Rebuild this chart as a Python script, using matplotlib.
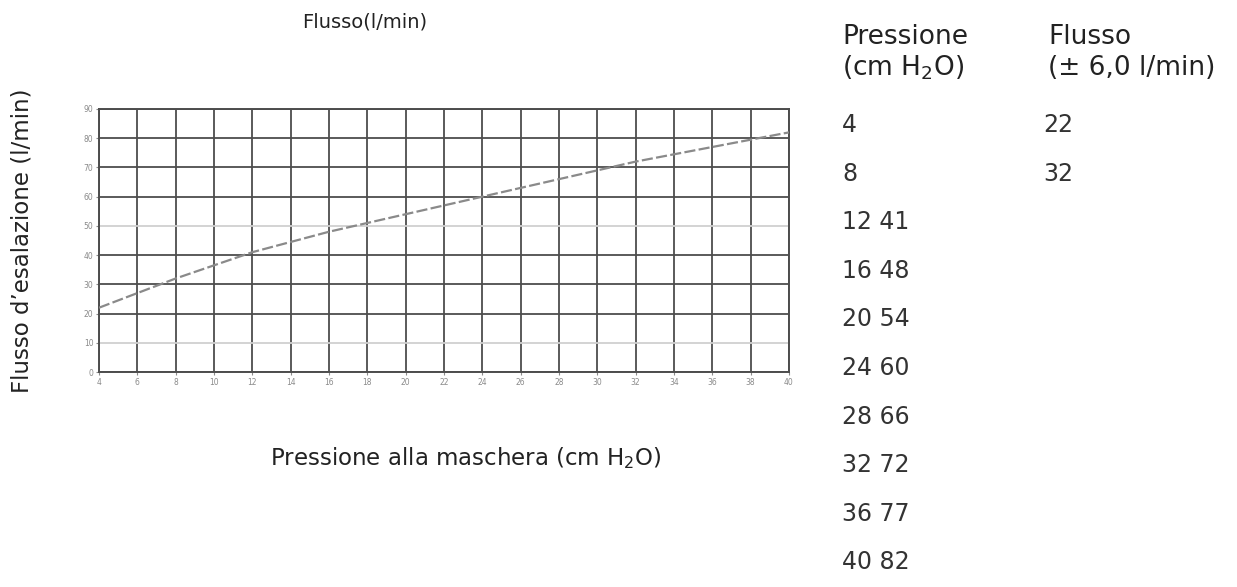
import matplotlib
matplotlib.use("Agg")
import matplotlib.pyplot as plt

# ---- data ----
pressure = [4, 8, 12, 16, 20, 24, 28, 32, 36, 40]
flow = [22, 32, 41, 48, 54, 60, 66, 72, 77, 82]
x_ticks = list(range(4, 41, 2))
y_ticks = list(range(0, 91, 10))
light_y = [10, 50]

title = "Flusso(l/min)"
xlabel = "Pressione alla maschera (cm $\\mathregular{H_2O}$)"
ylabel = "Flusso d\u2019esalazione (l/min)"
col1_head = ["Pressione", "(cm $\\mathregular{H_2O}$)"]
col2_head = ["Flusso", "(\u00b1 6,0 l/min)"]

W, H = 1237, 587
fig = plt.figure(figsize=(W / 100, H / 100), dpi=100)
plt.rcParams['font.family'] = ['DejaVu Sans']

def fx(px):
    return px / W

def fy(py):
    return 1 - py / H

ax = fig.add_axes([fx(99), fy(372), fx(789) - fx(99), fy(109) - fy(372)])
ax.plot(pressure, flow, color="#8a8a8a", lw=1.6, dashes=(5, 1.5), zorder=3)
ax.set_xlim(4, 40)
ax.set_ylim(0, 90)
ax.set_xticks(x_ticks)
ax.set_yticks(y_ticks)
ax.grid(True, color="#4d4d4d", lw=1.3, zorder=1)
for val, gl in zip(y_ticks, ax.get_ygridlines()):
    if val in light_y:
        gl.set_color("#d0d0d0")
for s in ax.spines.values():
    s.set_color("#4d4d4d")
    s.set_linewidth(1.4)
ax.tick_params(axis="both", labelsize=5.5, labelcolor="#8a8a8a", color="#8a8a8a",
               length=2, width=0.8, pad=2)

fig.text(fx(365), fy(22), title, ha="center", va="center", fontsize=14, color="#222222")
fig.text(fx(466), fy(458), xlabel, ha="center", va="center", fontsize=16.5, color="#222222")
fig.text(fx(22), fy(241), ylabel, ha="center", va="center", rotation=90, fontsize=16.5,
         color="#222222")

# table
fig.text(fx(842), fy(37), col1_head[0], ha="left", va="center", fontsize=19, color="#222222")
fig.text(fx(842), fy(68), col1_head[1], ha="left", va="center", fontsize=19, color="#222222")
fig.text(fx(1048), fy(37), col2_head[0], ha="left", va="center", fontsize=19, color="#222222")
fig.text(fx(1048), fy(68), col2_head[1], ha="left", va="center", fontsize=19, color="#222222")

for i, (p, f) in enumerate(zip(pressure, flow)):
    y = 125 + 48.6 * i
    if i < 2:
        fig.text(fx(842), fy(y), str(p), ha="left", va="center", fontsize=17, color="#333333")
        fig.text(fx(1043), fy(y), str(f), ha="left", va="center", fontsize=17, color="#333333")
    else:
        fig.text(fx(842), fy(y), f"{p} {f}", ha="left", va="center", fontsize=17, color="#333333")

fig.savefig("out.png", dpi=100, facecolor="white")
